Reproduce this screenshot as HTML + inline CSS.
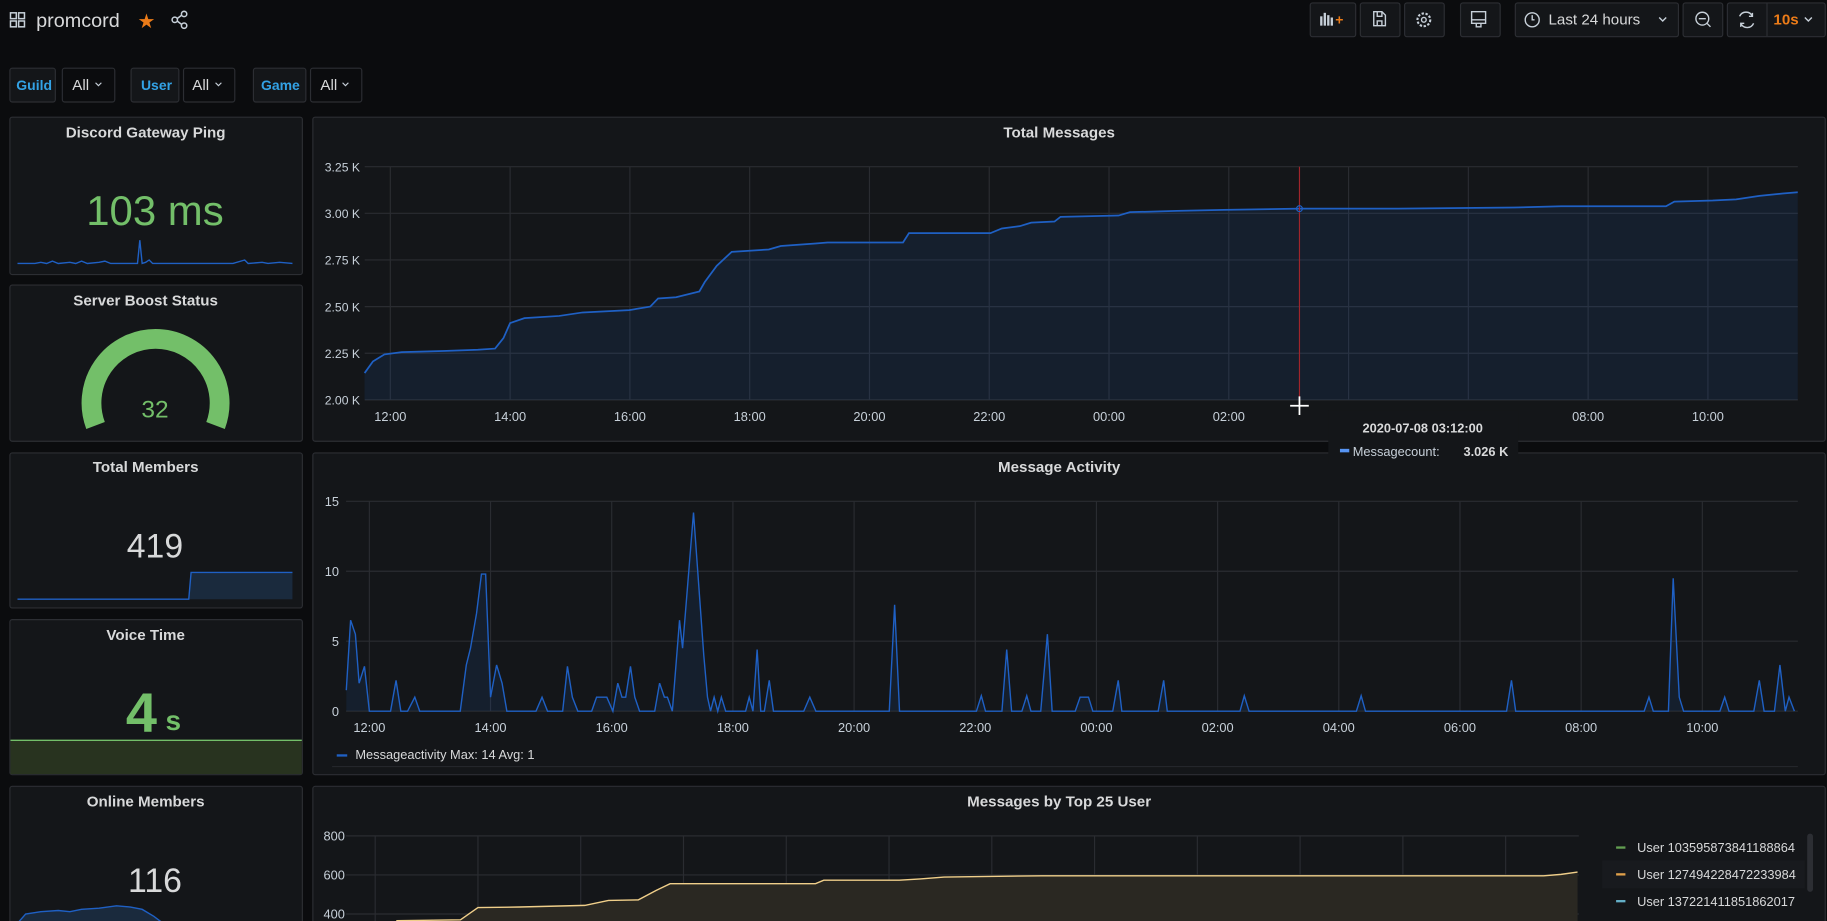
<!DOCTYPE html>
<html><head><meta charset="utf-8">
<style>
html,body{margin:0;padding:0;background:#0b0c0e;width:1827px;height:921px;overflow:hidden}
svg{display:block}
text{font-family:"Liberation Sans",sans-serif}
</style></head>
<body>
<svg id="root" width="1827" height="921" viewBox="0 0 1568 790" preserveAspectRatio="none" xmlns="http://www.w3.org/2000/svg">
<rect width="1568" height="790" fill="#0b0c0e"/>
<!-- header -->
<g>
  <g fill="none" stroke="#c7d0d9" stroke-width="1.3">
    <rect x="9" y="11" width="5" height="5"/><rect x="16" y="11" width="5" height="5"/><rect x="9" y="18" width="5" height="5"/><rect x="16" y="18" width="5" height="5"/>
  </g>
  <text x="31" y="23" font-size="17" fill="#d8d9da">promcord</text>
  <text x="118" y="24" font-size="17" fill="#eb7b18">★</text>
  <g fill="none" stroke="#c7d0d9" stroke-width="1.3">
    <circle cx="150" cy="17" r="2.3"/><circle cx="158" cy="12" r="2.3"/><circle cx="158" cy="22" r="2.3"/><line x1="152" y1="16" x2="156" y2="13"/><line x1="152" y1="18" x2="156" y2="21"/>
  </g>
  <g>
    <rect x="1124.5" y="2.5" width="39" height="29" rx="2" fill="#141619" stroke="#2c2e33"/>
    <g fill="#c7d0d9"><rect x="1133" y="14" width="2" height="8"/><rect x="1136" y="11" width="2" height="11"/><rect x="1139" y="13" width="2" height="9"/><rect x="1142" y="15" width="2" height="7"/></g>
    <text x="1146" y="21" font-size="12" font-weight="bold" fill="#eb7b18">+</text>
  </g>
  <g>
    <rect x="1167.5" y="2.5" width="34" height="29" rx="2" fill="#141619" stroke="#2c2e33"/>
    <path d="M1179 10h7l3 3v9h-10z M1182 10v4h4v-4 M1182 22v-4h4v4" fill="none" stroke="#c7d0d9" stroke-width="1.2"/>
  </g>
  <g>
    <rect x="1205.5" y="2.5" width="34" height="29" rx="2" fill="#141619" stroke="#2c2e33"/>
    <circle cx="1222" cy="17" r="5.5" fill="none" stroke="#c7d0d9" stroke-width="1.8" stroke-dasharray="2 1.4"/><circle cx="1222" cy="17" r="2" fill="none" stroke="#c7d0d9" stroke-width="1.2"/>
  </g>
  <g>
    <rect x="1253.5" y="2.5" width="34" height="29" rx="2" fill="#141619" stroke="#2c2e33"/>
    <path d="M1263 10h12v10h-12z M1263 17h12 M1267 20v3h4v-3" fill="none" stroke="#c7d0d9" stroke-width="1.2"/>
  </g>
  <g>
    <rect x="1300.5" y="2.5" width="140" height="29" rx="2" fill="#141619" stroke="#2c2e33"/>
    <circle cx="1315" cy="17" r="6" fill="none" stroke="#c7d0d9" stroke-width="1.2"/><path d="M1315 13v4h2" fill="none" stroke="#c7d0d9" stroke-width="1.2"/>
    <text x="1329" y="21" font-size="13" fill="#d8d9da">Last 24 hours</text>
    <path d="M1424 15l3 3 3-3" fill="none" stroke="#c7d0d9" stroke-width="1.2"/>
  </g>
  <g>
    <rect x="1444.5" y="2.5" width="34" height="29" rx="2" fill="#141619" stroke="#2c2e33"/>
    <circle cx="1461" cy="16" r="5.5" fill="none" stroke="#c7d0d9" stroke-width="1.2"/><path d="M1458 16h6 M1465 20l3 3" stroke="#c7d0d9" stroke-width="1.2"/>
  </g>
  <g>
    <rect x="1482.5" y="2.5" width="84" height="29" rx="2" fill="#141619" stroke="#2c2e33"/>
    <line x1="1516.5" y1="3" x2="1516.5" y2="31" stroke="#2c2e33"/>
    <path d="M1493 14a6 6 0 0 1 11 0 M1505 20a6 6 0 0 1-11 0 M1504 11v3h-3 M1494 23v-3h3" fill="none" stroke="#c7d0d9" stroke-width="1.2"/>
    <text x="1522" y="21" font-size="13" font-weight="bold" fill="#eb7b18">10s</text>
    <path d="M1549 15l3 3 3-3" fill="none" stroke="#c7d0d9" stroke-width="1.2"/>
  </g>
</g>
<!-- variables -->
<g font-size="12">
  <rect x="8.5" y="58.5" width="39" height="29" rx="2" fill="#141619" stroke="#2c2e33"/><text x="14" y="77" fill="#33a2e5" font-weight="bold">Guild</text>
  <rect x="53.5" y="58.5" width="45" height="29" rx="2" fill="#0b0c0e" stroke="#2c2e33"/><text x="62" y="77" fill="#d8d9da" font-size="13">All</text><path d="M82 71l2.5 2.5 2.5-2.5" fill="none" stroke="#c7d0d9"/>
  <rect x="112.5" y="58.5" width="41" height="29" rx="2" fill="#141619" stroke="#2c2e33"/><text x="121" y="77" fill="#33a2e5" font-weight="bold">User</text>
  <rect x="157.5" y="58.5" width="44" height="29" rx="2" fill="#0b0c0e" stroke="#2c2e33"/><text x="165" y="77" fill="#d8d9da" font-size="13">All</text><path d="M185 71l2.5 2.5 2.5-2.5" fill="none" stroke="#c7d0d9"/>
  <rect x="217.5" y="58.5" width="45" height="29" rx="2" fill="#141619" stroke="#2c2e33"/><text x="224" y="77" fill="#33a2e5" font-weight="bold">Game</text>
  <rect x="266.5" y="58.5" width="44" height="29" rx="2" fill="#0b0c0e" stroke="#2c2e33"/><text x="275" y="77" fill="#d8d9da" font-size="13">All</text><path d="M294 71l2.5 2.5 2.5-2.5" fill="none" stroke="#c7d0d9"/>
</g>
<!-- left panels -->
<g>
  <rect x="8.5" y="100.5" width="251" height="135" rx="2" fill="#141619" stroke="#2c2e33"/>
  <text x="125" y="118" text-anchor="middle" font-size="13" font-weight="bold" fill="#d8d9da">Discord Gateway Ping</text>
  <text x="133" y="193" text-anchor="middle" font-size="36" fill="#73bf69">103 ms</text>
  <path d="M15 226L30 226L35 225L40 226L45 224L50 226L60 225L65 226L70 224L75 226L85 225L90 224L95 226L118 226L120 206L122 226L125 225L128 223L131 226L200 226L210 223L213 226L225 225L230 226L240 225L251 226" fill="none" stroke="#1f60c4" stroke-width="1.2"/>
</g>
<g>
  <rect x="8.5" y="244.5" width="251" height="134" rx="2" fill="#141619" stroke="#2c2e33"/>
  <text x="125" y="262" text-anchor="middle" font-size="13" font-weight="bold" fill="#d8d9da">Server Boost Status</text>
  <path d="M82 365 A55 55 0 1 1 185 365" fill="none" stroke="#73bf69" stroke-width="17"/>
  <text x="133" y="358" text-anchor="middle" font-size="21" fill="#73bf69">32</text>
</g>
<g>
  <rect x="8.5" y="388.5" width="251" height="133" rx="2" fill="#141619" stroke="#2c2e33"/>
  <text x="125" y="405" text-anchor="middle" font-size="13" font-weight="bold" fill="#d8d9da">Total Members</text>
  <text x="133" y="478" text-anchor="middle" font-size="29" fill="#d8d9da">419</text>
  <path d="M162 514L164 491L251 491L251 514Z" fill="#1a2a3d"/>
  <path d="M15 514L162 514L164 491L251 491" fill="none" stroke="#1f60c4" stroke-width="1.2"/>
</g>
<g>
  <rect x="8.5" y="531.5" width="251" height="133" rx="2" fill="#141619" stroke="#2c2e33"/>
  <text x="125" y="549" text-anchor="middle" font-size="13" font-weight="bold" fill="#d8d9da">Voice Time</text>
  <rect x="9" y="635" width="250" height="29" fill="#28331f"/>
  <line x1="9" y1="635" x2="259" y2="635" stroke="#73bf69" stroke-width="1.2"/>
  <text x="108" y="628" font-size="48" font-weight="bold" fill="#73bf69">4</text>
  <text x="142" y="626" font-size="24" font-weight="bold" fill="#73bf69">s</text>
</g>
<g>
  <rect x="8.5" y="674.5" width="251" height="130" rx="2" fill="#141619" stroke="#2c2e33"/>
  <text x="125" y="692" text-anchor="middle" font-size="13" font-weight="bold" fill="#d8d9da">Online Members</text>
  <text x="133" y="765" text-anchor="middle" font-size="29" fill="#d8d9da">116</text>
  <path d="M15 792L22 784L35 782L50 781L60 782L70 780L85 779L100 777L112 778L122 780L132 786L140 792Z" fill="#1a2a3d" stroke="#1f60c4" stroke-width="1.2"/>
</g>
<!-- right panels -->
<g>
  <rect x="268.5" y="100.5" width="1298" height="278" rx="2" fill="#141619" stroke="#2c2e33"/>
  <text x="909" y="118" text-anchor="middle" font-size="13" font-weight="bold" fill="#d8d9da">Total Messages</text>
  <g id="tmGrid"></g><g id="tmSeries"></g>
</g>
<g>
  <rect x="268.5" y="388.5" width="1298" height="276" rx="2" fill="#141619" stroke="#2c2e33"/>
  <text x="909" y="405" text-anchor="middle" font-size="13" font-weight="bold" fill="#d8d9da">Message Activity</text>
  <g id="maGrid"></g><g id="maSeries"></g>
  <g>
    <line x1="289" y1="648" x2="298" y2="648" stroke="#1f60c4" stroke-width="2"/>
    <text x="305" y="651" font-size="11" fill="#d8d9da">Messageactivity  Max: 14  Avg: 1</text>
  </g>
  <line x1="285" y1="657.5" x2="1543" y2="657.5" stroke="#24262b"/>
</g>
<g>
  <rect x="268.5" y="674.5" width="1298" height="130" rx="2" fill="#141619" stroke="#2c2e33"/>
  <text x="909" y="692" text-anchor="middle" font-size="13" font-weight="bold" fill="#d8d9da">Messages by Top 25 User</text>
  <g id="tuGrid"></g><g id="tuSeries"></g>
  <rect x="1375" y="738" width="174" height="24" fill="#181a1e"/>
  <rect x="1551" y="715" width="5" height="50" rx="2.5" fill="#2c2e33"/>
  <g><line x1="1387" y1="727" x2="1395" y2="727" stroke="#629e51" stroke-width="2"/><text x="1405" y="731" font-size="11" fill="#d8d9da">User 103595873841188864</text></g>
  <g><line x1="1387" y1="750" x2="1395" y2="750" stroke="#e0a04a" stroke-width="2"/><text x="1405" y="754" font-size="11" fill="#d8d9da">User 127494228472233984</text></g>
  <g><line x1="1387" y1="773" x2="1395" y2="773" stroke="#64b0c8" stroke-width="2"/><text x="1405" y="777" font-size="11" fill="#d8d9da">User 137221411851862017</text></g>
</g>
<g id="overlay"></g>
</svg>
<script>
// ---- Total Messages data ----
const tmHours=[-0.43,-0.29,-0.10,0.19,0.88,1.46,1.75,1.89,2.00,2.24,2.82,3.21,3.99,4.34,4.47,4.77,5.16,5.25,5.45,5.70,6.32,6.52,7.10,7.30,8.56,8.66,10.02,10.21,10.51,10.70,11.09,11.19,12.16,12.35,13.13,13.91,15.18,16.83,18.77,19.55,21.30,21.44,22.08,22.47,22.86,23.25,23.50];
const tmValues=[2144,2206,2244,2256,2262,2269,2275,2331,2412,2438,2450,2469,2481,2500,2544,2550,2581,2631,2719,2794,2806,2825,2838,2844,2844,2894,2894,2919,2931,2950,2956,2981,2988,3006,3013,3019,3025,3025,3031,3038,3038,3063,3069,3075,3094,3106,3113];
const tmYTicks=[2000,2250,2500,2750,3000,3250];
const tmYTickLabels=["2.00 K","2.25 K","2.50 K","2.75 K","3.00 K","3.25 K"];
const timeTicks=[0,2,4,6,8,10,12,14,16,18,20,22];
const timeTickLabels=["12:00","14:00","16:00","18:00","20:00","22:00","00:00","02:00","04:00","06:00","08:00","10:00"];
// ---- Message Activity data ----
const maHours=[-0.38,-0.31,-0.23,-0.17,-0.08,0,0.35,0.44,0.52,0.63,0.75,0.83,1.5,1.6,1.67,1.77,1.85,1.92,2.0,2.1,2.19,2.27,2.75,2.85,2.94,3.19,3.27,3.35,3.44,3.67,3.75,3.92,4.02,4.1,4.17,4.23,4.31,4.38,4.46,4.71,4.79,4.87,4.92,5.0,5.12,5.17,5.35,5.52,5.58,5.63,5.69,5.75,5.81,5.88,6.21,6.27,6.33,6.4,6.46,6.52,6.6,6.67,7.17,7.27,7.37,8.58,8.67,8.75,10.02,10.1,10.17,10.44,10.52,10.6,10.77,10.85,10.92,11.08,11.19,11.27,11.65,11.73,11.87,11.94,12.27,12.36,12.42,13.02,13.11,13.17,14.37,14.44,14.52,16.29,16.37,16.44,18.77,18.85,18.92,21.04,21.12,21.19,21.44,21.52,21.62,21.69,22.29,22.37,22.44,22.85,22.94,23.02,23.19,23.28,23.37,23.43,23.52];
const maValues=[1.5,6.5,5.5,2,3.2,0,0,2.2,0,0,1,0,0,3.3,4.5,7,9.8,9.8,1,3.3,2,0,0,1,0,0,3.2,1,0,0,1,1,0,2,1,1,3.2,1,0,0,2,1,1,0,6.5,4.5,14.2,4,1,0,1,0,1,0,0,1,0,4.4,0,0,2.2,0,0,1,0,0,7.6,0,0,1.1,0,0,4.4,0,0,1.1,0,0,5.5,0,0,1,1,0,0,2.2,0,0,2.2,0,0,1.1,0,0,1.1,0,0,2.2,0,0,1,0,0,9.5,1,0,0,1,0,0,2.2,0,0,3.3,0,1,0];
const maYTicks=[0,5,10,15];
// ---- Top users data ----
const tuHours=[0.41,1.66,2.0,2.81,4.08,4.54,5.12,5.46,5.74,8.57,8.73,10.2,10.61,11.07,12.97,22.74,23.08,23.4];
const tuValues=[366,370,433,436,444,469,472,520,555,555,573,573,580,589,596,596,603,615];
const tuYTicks=[400,600,800];

const NS="http://www.w3.org/2000/svg";
function mk(tag,attrs,parent){const e=document.createElementNS(NS,tag);for(const k in attrs)e.setAttribute(k,attrs[k]);parent.appendChild(e);return e;}
function pathFrom(xs,ys){return xs.map((x,i)=>(i?"L":"M")+x.toFixed(1)+" "+ys[i].toFixed(1)).join("");}

// Total messages axes
const tmX=t=>335+t*51.4, tmY=v=>343-(v-2000)*0.16;
(function(){
 const g=document.getElementById('tmGrid');
 tmYTicks.forEach((v,i)=>{
  const l=mk('line',{x1:313,x2:1543,y1:tmY(v),y2:tmY(v),stroke:'#2a2c31'},g);
  
  
  const t=mk('text',{x:309,y:tmY(v)+4,'text-anchor':'end','font-size':10.5,fill:'#c7d0d9'},g);t.textContent=tmYTickLabels[i];
  
  
 });
 timeTicks.forEach((h,i)=>{
  const l=mk('line',{x1:tmX(h),x2:tmX(h),y1:143,y2:343,stroke:'#2a2c31'},g);
  
  
  const t=mk('text',{x:tmX(h),y:361,'text-anchor':'middle','font-size':11,fill:'#c7d0d9'},g);t.textContent=timeTickLabels[i];
  
  
 });
 const s=document.getElementById('tmSeries');
 const xs=tmHours.map(tmX), ys=tmValues.map(tmY);
 const a=mk('path',{d:pathFrom(xs,ys)+"L"+xs[xs.length-1]+" 343L"+xs[0]+" 343Z",fill:'#1f60c4','fill-opacity':0.12},s);
 
 
 const p=mk('path',{d:pathFrom(xs,ys),fill:'none',stroke:'#1f60c4','stroke-width':1.5},s);
 
 
})();

// Message activity
const maX=t=>317+t*52, maY=v=>610-v*12;
(function(){
 const g=document.getElementById('maGrid');
 maYTicks.forEach(v=>{
  const l=mk('line',{x1:297,x2:1543,y1:maY(v),y2:maY(v),stroke:'#2a2c31'},g);
  
  
  const t=mk('text',{x:291,y:maY(v)+4,'text-anchor':'end','font-size':11,fill:'#c7d0d9'},g);t.textContent=v;
  
  
 });
 timeTicks.forEach((h,i)=>{
  const l=mk('line',{x1:maX(h),x2:maX(h),y1:430,y2:610,stroke:'#2a2c31'},g);
  
  
  const t=mk('text',{x:maX(h),y:628,'text-anchor':'middle','font-size':11,fill:'#c7d0d9'},g);t.textContent=timeTickLabels[i];
  
  
 });
 const s=document.getElementById('maSeries');
 const xs=maHours.map(maX), ys=maValues.map(maY);
 const a=mk('path',{d:pathFrom(xs,ys)+"L"+xs[xs.length-1]+" 610L"+xs[0]+" 610Z",fill:'#1f60c4','fill-opacity':0.12},s);
 
 
 const p=mk('path',{d:pathFrom(xs,ys),fill:'none',stroke:'#1f60c4','stroke-width':1.2},s);
 
 
})();

// Top users
const tuX=t=>322+t*44.1, tuY=v=>784-(v-400)*0.1675;
(function(){
 const g=document.getElementById('tuGrid');
 tuYTicks.forEach(v=>{
  const l=mk('line',{x1:297,x2:1355,y1:tuY(v),y2:tuY(v),stroke:'#2a2c31'},g);
  
  
  const t=mk('text',{x:296,y:tuY(v)+4,'text-anchor':'end','font-size':11,fill:'#c7d0d9'},g);t.textContent=v;
  
  
 });
 timeTicks.forEach(h=>{
  const l=mk('line',{x1:tuX(h),x2:tuX(h),y1:717,y2:790,stroke:'#2a2c31'},g);
  
  
 });
 const s=document.getElementById('tuSeries');
 const xs=tuHours.map(tuX), ys=tuValues.map(tuY);
 const a=mk('path',{d:pathFrom(xs,ys)+"L"+xs[xs.length-1]+" 800L"+xs[0]+" 800Z",fill:'#2a2822'},s);
 
 
 const p=mk('path',{d:pathFrom(xs,ys),fill:'none',stroke:'#f0cf8a','stroke-width':1.2},s);
 
 
})();

// crosshair + tooltip
(function(){
 const o=document.getElementById('overlay');
 const ch=15.18, xv=tmX(ch);
 const l=mk('line',{x1:xv,x2:xv,y1:143,y2:343,stroke:'#a0252b','stroke-width':1},o);
 
 
 const c=mk('circle',{cx:xv,cy:tmY(3025),r:2.5,fill:'none',stroke:'#1f60c4'},o);
 
 
 const cur=mk('path',{d:`M${xv-8} 348h16M${xv} 340v16`,stroke:'#fff','stroke-width':1.5},o);
 
 
 const tg=mk('g',{},o);
 
 
 mk('rect',{x:1140,y:352,width:163,height:46,fill:'#141619'},tg);
 const t1=mk('text',{x:1221,y:371,'text-anchor':'middle','font-size':11,'font-weight':'bold',fill:'#d8d9da'},tg);t1.textContent="2020-07-08 03:12:00";
 mk('rect',{x:1150,y:385,width:8,height:3,fill:'#5794f2'},tg);
 const t2=mk('text',{x:1161,y:391,'font-size':11,fill:'#c7d0d9'},tg);t2.textContent="Messagecount:";
 const t3=mk('text',{x:1256,y:391,'font-size':11,'font-weight':'bold',fill:'#d8d9da'},tg);t3.textContent="3.026 K";
})();
</script>
</body></html>
